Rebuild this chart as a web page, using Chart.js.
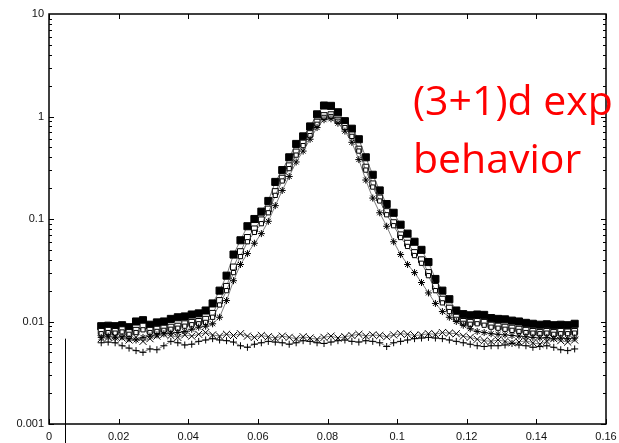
<!DOCTYPE html>
<html>
<head>
<meta charset="utf-8">
<script src="https://cdn.jsdelivr.net/npm/chart.js@4.4.0/dist/chart.umd.min.js"></script>
<style>
  html, body { margin: 0; padding: 0; background: #fff; }
  #wrap { width: 619px; height: 443px; }
</style>
</head>
<body>
<div id="wrap"><canvas id="expChart" width="619" height="443"></canvas></div>
<script>
const xValues = [0.015,0.017,0.019,0.021,0.023,0.025,0.027,0.029,0.031,0.033,0.035,0.037,0.039,0.041,0.043,0.045,0.047,0.049,0.051,0.053,0.055,0.057,0.059,0.061,0.063,0.065,0.067,0.069,0.071,0.073,0.075,0.077,0.079,0.081,0.083,0.085,0.087,0.089,0.091,0.093,0.095,0.097,0.099,0.101,0.103,0.105,0.107,0.109,0.111,0.113,0.115,0.117,0.119,0.121,0.123,0.125,0.127,0.129,0.131,0.133,0.135,0.137,0.139,0.141,0.143,0.145,0.147,0.149,0.151];

// filled squares
const filledSq = [0.0090,0.0091,0.0090,0.0092,0.0088,0.0100,0.0103,0.0093,0.0098,0.0100,0.0106,0.0110,0.0112,0.0117,0.0120,0.0128,0.0150,0.0200,0.0280,0.0450,0.062,0.085,0.100,0.118,0.150,0.230,0.300,0.400,0.540,0.640,0.800,1.05,1.28,1.27,1.10,0.90,0.76,0.60,0.40,0.27,0.19,0.14,0.115,0.088,0.072,0.060,0.050,0.038,0.026,0.020,0.0165,0.0128,0.0118,0.0115,0.0117,0.0116,0.0108,0.0106,0.0105,0.0102,0.0100,0.0097,0.0095,0.0093,0.0094,0.0092,0.0093,0.0092,0.0095];
// open squares
const openSq = [0.0080,0.0082,0.0080,0.0083,0.0078,0.0082,0.0090,0.0082,0.0084,0.0086,0.0088,0.0090,0.0095,0.0098,0.0100,0.0105,0.0120,0.0160,0.0220,0.0340,0.048,0.066,0.080,0.098,0.125,0.185,0.250,0.330,0.450,0.550,0.680,0.880,1.02,1.04,0.92,0.80,0.66,0.48,0.32,0.22,0.160,0.118,0.092,0.070,0.058,0.047,0.040,0.030,0.022,0.0165,0.0135,0.0110,0.0100,0.0098,0.0100,0.0098,0.0092,0.0090,0.0088,0.0086,0.0084,0.0082,0.0080,0.0078,0.0080,0.0078,0.0080,0.0079,0.0080];
// small squares
const smallSq = [0.0076,0.0078,0.0077,0.0079,0.0075,0.0078,0.0083,0.0078,0.0080,0.0082,0.0084,0.0086,0.0090,0.0093,0.0095,0.0098,0.0110,0.0145,0.0200,0.0300,0.043,0.060,0.074,0.090,0.115,0.170,0.235,0.310,0.420,0.520,0.650,0.840,0.98,1.00,0.90,0.78,0.64,0.46,0.30,0.205,0.150,0.110,0.086,0.066,0.054,0.044,0.037,0.028,0.020,0.0152,0.0125,0.0105,0.0096,0.0094,0.0095,0.0092,0.0088,0.0086,0.0084,0.0082,0.0080,0.0078,0.0077,0.0076,0.0077,0.0075,0.0076,0.0076,0.0077];
// asterisks
const stars = [0.0070,0.0072,0.0069,0.0071,0.0068,0.0066,0.0070,0.0072,0.0074,0.0076,0.0077,0.0078,0.0080,0.0084,0.0088,0.0090,0.0095,0.0110,0.0160,0.0250,0.036,0.046,0.058,0.072,0.095,0.135,0.190,0.260,0.360,0.460,0.600,0.780,0.93,0.95,0.86,0.72,0.56,0.38,0.24,0.160,0.115,0.085,0.060,0.045,0.036,0.030,0.024,0.019,0.0150,0.0125,0.0110,0.0100,0.0092,0.0085,0.0080,0.0078,0.0076,0.0075,0.0074,0.0073,0.0072,0.0071,0.0070,0.0069,0.0070,0.0068,0.0069,0.0068,0.0069];
// crosses (x)
const crosses = [0.0068,0.0070,0.0072,0.0069,0.0066,0.0070,0.0064,0.0068,0.0072,0.0075,0.0073,0.0070,0.0074,0.0072,0.0075,0.0078,0.0074,0.0072,0.0075,0.0073,0.0076,0.0072,0.0070,0.0073,0.0071,0.0069,0.0072,0.0070,0.0068,0.0071,0.0069,0.0067,0.0070,0.0072,0.0069,0.0071,0.0073,0.0075,0.0072,0.0074,0.0073,0.0071,0.0074,0.0076,0.0075,0.0073,0.0074,0.0076,0.0075,0.0078,0.0077,0.0076,0.0072,0.0070,0.0067,0.0065,0.0064,0.0066,0.0064,0.0062,0.0063,0.0065,0.0062,0.0060,0.0064,0.0068,0.0065,0.0063,0.0066];
// plus signs
const pluses = [0.0062,0.0063,0.0062,0.0058,0.0055,0.0052,0.0050,0.0054,0.0053,0.0058,0.0064,0.0062,0.0059,0.0060,0.0064,0.0066,0.0068,0.0066,0.0065,0.0063,0.0058,0.0056,0.0060,0.0062,0.0064,0.0063,0.0062,0.0060,0.0062,0.0065,0.0064,0.0062,0.0061,0.0063,0.0065,0.0066,0.0064,0.0063,0.0065,0.0064,0.0062,0.0057,0.0062,0.0064,0.0066,0.0068,0.0069,0.0070,0.0069,0.0068,0.0066,0.0064,0.0062,0.0060,0.0058,0.0057,0.0058,0.0058,0.0059,0.0061,0.0059,0.0058,0.0056,0.0057,0.0058,0.0056,0.0053,0.0052,0.0054];

const xTicks = [0, 0.02, 0.04, 0.06, 0.08, 0.1, 0.12, 0.14, 0.16];
const yTicks = [0.001, 0.01, 0.1, 1, 10];
const markerLine = { x: 0.0046, yTop: 0.0068 };
const noteLines = ['(3+1)d exp', 'behavior'];

function pts(ys) {
    return xValues.map((x, i) => ({ x: x, y: ys[i] }));
}

function series(ys, style, radius, fill, order) {
    return {
        data: pts(ys),
        borderColor: '#444',
        borderWidth: 0.7,
        pointStyle: style,
        pointRadius: radius,
        pointBorderColor: '#000',
        pointBorderWidth: 1,
        pointBackgroundColor: fill,
        tension: 0,
        order: order
    };
}

// frame, inward ticks, vertical marker and the red note
const decorPlugin = {
    id: 'decor',
    afterDraw(chart) {
        const ctx = chart.ctx;
        const a = chart.chartArea;
        const xs = chart.scales.x, ys = chart.scales.y;
        ctx.save();
        ctx.strokeStyle = '#000';
        ctx.lineWidth = 1.5;
        ctx.strokeRect(a.left, a.top, a.right - a.left, a.bottom - a.top);

        ctx.lineWidth = 1;
        ctx.beginPath();
        xTicks.forEach(v => {
            const px = Math.round(xs.getPixelForValue(v)) + 0.5;
            ctx.moveTo(px, a.bottom); ctx.lineTo(px, a.bottom - 5);
            ctx.moveTo(px, a.top); ctx.lineTo(px, a.top + 5);
        });
        for (let d = -3; d <= 0; d++) {
            for (let k = 1; k <= 9; k++) {
                const v = k * Math.pow(10, d);
                const py = Math.round(ys.getPixelForValue(v)) + 0.5;
                const len = k === 1 ? 5 : 3;
                ctx.moveTo(a.left, py); ctx.lineTo(a.left + len, py);
                ctx.moveTo(a.right, py); ctx.lineTo(a.right - len, py);
            }
        }
        ctx.stroke();

        // vertical marker line running below the axis
        const mx = Math.round(xs.getPixelForValue(markerLine.x)) + 0.5;
        ctx.beginPath();
        ctx.moveTo(mx, ys.getPixelForValue(markerLine.yTop));
        ctx.lineTo(mx, chart.height);
        ctx.stroke();

        ctx.fillStyle = '#ff0000';
        ctx.font = '41px "Open Sans"';
        ctx.textBaseline = 'alphabetic';
        ctx.textAlign = 'left';
        ctx.fillText(noteLines[0], 413, 115);
        ctx.fillText(noteLines[1], 413, 173);
        ctx.restore();
    }
};

const expChart = new Chart(document.getElementById('expChart'), {
    type: 'line',
    data: {
        datasets: [
            series(filledSq, 'rect', 5, '#000', 6),
            series(openSq, 'rect', 4.2, '#fff', 5),
            series(smallSq, 'rect', 3, '#fff', 4),
            series(stars, 'star', 3.5, '#000', 3),
            series(crosses, 'crossRot', 5, '#000', 2),
            series(pluses, 'cross', 3.5, '#000', 1)
        ]
    },
    options: {
        responsive: false,
        animation: false,
        devicePixelRatio: 1,
        layout: { padding: { top: 14, right: 13, left: 0, bottom: 0 } },
        plugins: { legend: { display: false }, tooltip: { enabled: false } },
        scales: {
            x: {
                type: 'linear',
                min: 0,
                max: 0.16,
                afterBuildTicks: scale => { scale.ticks = xTicks.map(v => ({ value: v })); },
                afterFit: scale => {
                    scale.height = 19;
                    scale.paddingLeft = 0;
                    scale.paddingRight = 0;
                },
                grid: { display: false, drawTicks: false },
                border: { display: false },
                ticks: {
                    autoSkip: false,
                    maxRotation: 0,
                    padding: 6,
                    color: '#111',
                    font: { family: 'Liberation Sans', size: 11 },
                    callback: v => String(+v.toFixed(2))
                }
            },
            y: {
                type: 'logarithmic',
                min: 0.001,
                max: 10,
                afterBuildTicks: scale => { scale.ticks = yTicks.map(v => ({ value: v })); },
                afterFit: scale => {
                    scale.width = 49;
                    scale.paddingTop = 0;
                    scale.paddingBottom = 0;
                },
                grid: { display: false, drawTicks: false },
                border: { display: false },
                ticks: {
                    autoSkip: false,
                    padding: 5,
                    color: '#111',
                    font: { family: 'Liberation Sans', size: 11 },
                    callback: v => String(v)
                }
            }
        }
    },
    plugins: [decorPlugin]
});
</script>
</body>
</html>
